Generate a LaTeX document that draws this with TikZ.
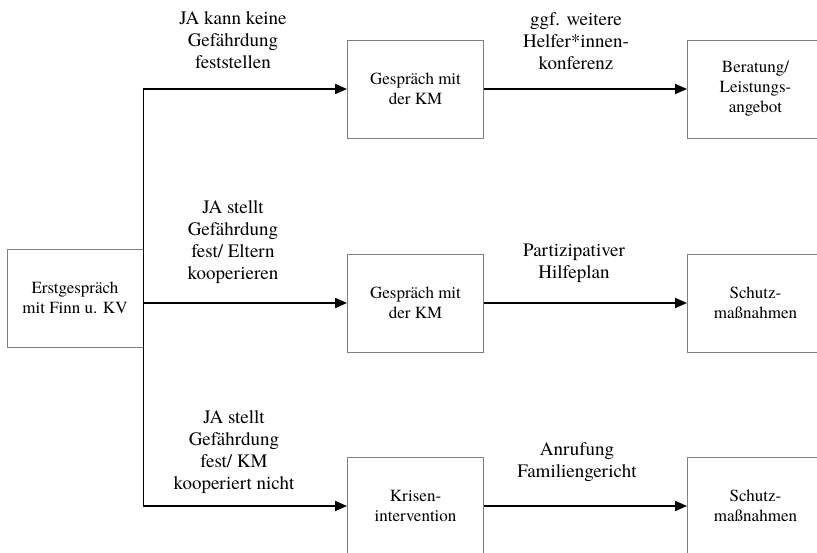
\documentclass[tikz,border=0pt]{standalone}
\usepackage{fontspec}
\setmainfont{texgyretermes}[Extension=.otf,UprightFont=*-regular,BoldFont=*-bold]
\usetikzlibrary{arrows.meta,positioning}
\definecolor{boxgray}{gray}{0.5}

\begin{document}
\begin{tikzpicture}[x=1pt,y=-1pt,node distance=340pt,on grid,
    box/.style={draw=boxgray,line width=0.9pt,minimum width=136pt,minimum height=98pt,
                align=center,font=\fontsize{17}{20}\selectfont},
    lbl/.style={align=center,font=\fontsize{19}{22}\selectfont},
    arr/.style={-{Triangle[length=12pt,width=10pt]},line width=1.8pt}]

\useasboundingbox (0,0) rectangle (817,553);

\node[box] (start) at (75,298)    {Erstgespräch\\mit Finn u. KV};
\node[box] (g1)    at (415.5,89)  {Gespräch mit\\der KM};
\node[box] (g2)    at (415.5,303) {Gespräch mit\\der KM};
\node[box] (kr)    at (415.5,506) {Krisen-\\intervention};
\node[box] (r1)    [right=of g1]  {Beratung/\\Leistungs-\\angebot};
\node[box] (r2)    [right=of g2]  {Schutz-\\maßnahmen};
\node[box] (r3)    [right=of kr]  {Schutz-\\maßnahmen};

\draw[arr] (start.east) |- (g1);
\draw[arr] (start.east |- g2) -- (g2);
\draw[arr] (start.east) |- (kr);
\draw[arr] (g1) -- (r1);
\draw[arr] (g2) -- (r2);
\draw[arr] (kr) -- (r3);

\node[lbl] (t1) at (233,40)  {JA kann keine\\Gefährdung\\feststellen};
\node[lbl] (t2) at (233,242) {JA stellt\\Gefährdung\\fest/ Eltern\\kooperieren};
\node[lbl] (t3) at (234,452) {JA stellt\\Gefährdung\\fest/ KM\\kooperiert nicht};
\node[lbl] (t4) at (576,41)  {ggf. weitere\\Helfer*innen-\\konferenz};
\node[lbl] (t5) at (574,263) {Partizipativer\\Hilfeplan};
\node[lbl] (t6) at (577,462) {Anrufung\\Familiengericht};
\end{tikzpicture}
\end{document}
